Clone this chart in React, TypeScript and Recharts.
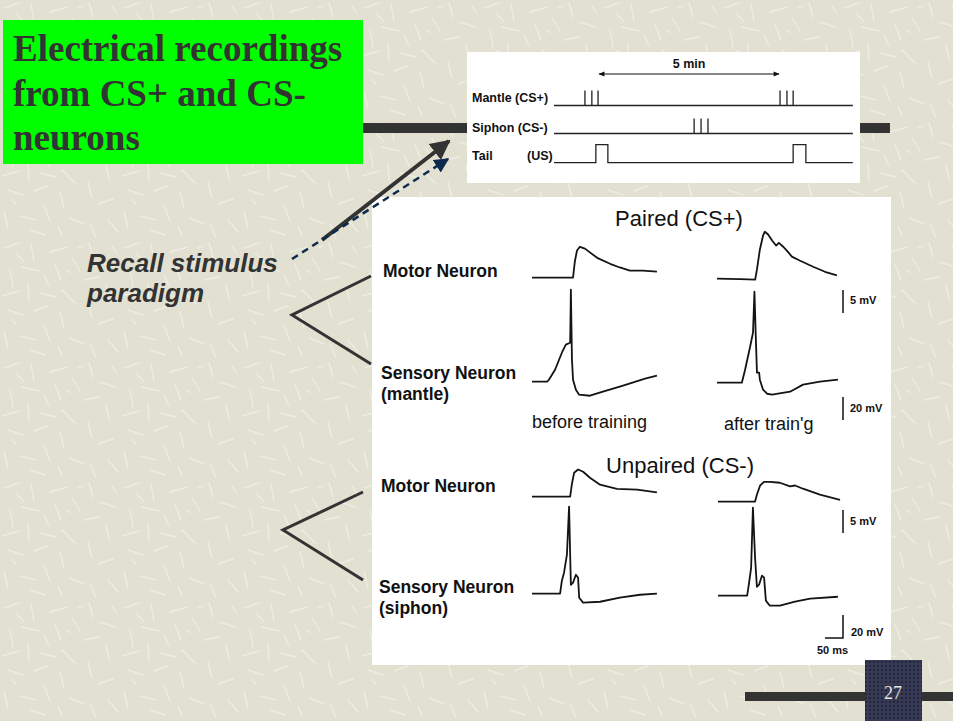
import React from 'react';
import { LineChart, Line, XAxis, YAxis } from 'recharts';

// ---------- DATA ----------
// Stimulus timeline (minutes)
const SESSION_MIN = 8.21;
const mantleStimMin = [0.85, 1.04, 1.21, 6.21, 6.4, 6.57];
const siphonStimMin = [3.85, 4.04, 4.23];
const tailShockMin: [number, number][] = [[1.15, 1.48], [6.57, 6.92]];
const intervalMin: [number, number] = [1.21, 6.21];

// Recordings: [time ms, membrane potential change mV]
const pairedMotorBefore: [number, number][] = [
  [0, 0], [114, 0], [119, 3.5], [125, 5.9], [133, 6.7], [147, 6.3], [181, 4.3],
  [217, 3.0], [244, 2.2], [272, 1.5], [308, 1.5], [347, 1.3],
];
const pairedMotorAfter: [number, number][] = [
  [0, 0.2], [64, 0.1], [106, 0], [111, 2.2], [119, 6.5], [128, 9.6], [133, 10.4],
  [142, 9.8], [153, 8.5], [164, 7.4], [172, 8.0], [183, 7.2], [194, 6.3],
  [208, 5.0], [231, 4.1], [267, 2.8], [300, 1.7], [333, 0.9],
];
const pairedSensoryBefore: [number, number][] = [
  [0, 0], [42, 0], [47, 1.7], [64, 10.4], [83, 25.2], [94, 32.2], [106, 33.9],
  [108, 80], [111, 19.1], [114, 1.7], [122, -7], [131, -11.3], [161, -12.2],
  [197, -8.7], [253, -3.5], [314, 2.6], [347, 5.2],
];
const pairedSensoryAfter: [number, number][] = [
  [0, 0], [69, 0], [78, 11.3], [92, 31.3], [100, 43.5], [104, 79.1], [108, 37.4],
  [111, 8.7], [117, 8.7], [119, 2.6], [128, -6.1], [139, -9.6], [153, -10.4],
  [203, -7.8], [239, -1.7], [286, 0.9], [336, 2.6],
];
const unpairedMotorBefore: [number, number][] = [
  [0, 0], [106, 0], [111, 2.8], [117, 5.2], [128, 5.9], [142, 5.4], [161, 4.1],
  [189, 2.6], [236, 1.7], [292, 1.5], [347, 0.9],
];
const unpairedMotorAfter: [number, number][] = [
  [0, 0], [103, 0], [108, 1.5], [117, 3.5], [128, 4.3], [144, 4.3], [172, 4.1],
  [200, 3.3], [214, 3.5], [236, 2.8], [283, 1.5], [339, 0.4],
];
const unpairedSensoryBefore: [number, number][] = [
  [0, 0], [78, 0], [83, 11.3], [89, 18.3], [97, 33.9], [103, 75.7], [106, 33.9],
  [108, 7.8], [114, 9.6], [122, 16.5], [128, 13.9], [131, -3.5], [142, -7.8],
  [189, -7], [244, -3.5], [300, -0.9], [347, 0],
];
const unpairedSensoryAfter: [number, number][] = [
  [0, 0], [81, 0], [86, 10.4], [92, 24.3], [97, 76.5], [103, 33], [108, 7.8],
  [114, 9.6], [122, 17.4], [128, 15.7], [133, -4.3], [144, -8.7], [172, -8.7],
  [214, -5.2], [256, -2.6], [333, -0.9],
];

const titleLines = ['Electrical recordings', 'from CS+ and CS-', 'neurons'];
const recallLines = ['Recall stimulus', 'paradigm'];

// ---------- SCALES / LAYOUT ----------
const PX_PER_MS = 0.36;
const MOTOR_PX_PER_MV = 4.6;
const SENSORY_PX_PER_MV = 1.15;
const PX_PER_MIN = 36.4;
const TL_LEFT = 554;
const PAD = 4;

const SANS = '"Liberation Sans", Arial, Helvetica, sans-serif';
const SERIF = '"Liberation Serif", "Times New Roman", serif';
const INK = '#141414';

const toPts = (arr: [number, number][]) => arr.map(([t, v]) => ({ t, v }));

function Trace({ data, x, y0, kind }: { data: [number, number][]; x: number; y0: number; kind: 'motor' | 'sensory' }) {
  const yScale = kind === 'motor' ? MOTOR_PX_PER_MV : SENSORY_PX_PER_MV;
  const [vMin, vMax] = kind === 'motor' ? [-4, 13] : [-22, 92];
  const height = Math.round((vMax - vMin) * yScale);
  const top = y0 - vMax * yScale;
  const width = 140;
  return (
    <div style={{ position: 'absolute', left: x - PAD, top, width, height }}>
      <LineChart width={width} height={height} data={toPts(data)} margin={{ top: 0, right: 0, bottom: 0, left: 0 }}>
        <XAxis type="number" dataKey="t" domain={[-PAD / PX_PER_MS, (width - PAD) / PX_PER_MS]} hide />
        <YAxis type="number" domain={[vMin, vMin + height / yScale]} hide />
        <Line dataKey="v" type="linear" stroke={INK} strokeWidth={1.8} strokeLinejoin="round" dot={false} isAnimationActive={false} />
      </LineChart>
    </div>
  );
}

function tickRow(times: number[]) {
  const pts = [{ t: 0, s: 0 }];
  times.forEach((t) => { pts.push({ t, s: 0 }, { t, s: 1 }, { t, s: 0 }); });
  pts.push({ t: SESSION_MIN, s: 0 });
  return pts;
}
function pulseRow(pulses: [number, number][]) {
  const pts = [{ t: 0, s: 0 }];
  pulses.forEach(([a, b]) => { pts.push({ t: a, s: 0 }, { t: a, s: 1 }, { t: b, s: 1 }, { t: b, s: 0 }); });
  pts.push({ t: SESSION_MIN, s: 0 });
  return pts;
}

function StimRow({ data, baseline, h }: { data: { t: number; s: number }[]; baseline: number; h: number }) {
  const width = Math.round(SESSION_MIN * PX_PER_MIN) + 2 * PAD;
  const height = Math.round(h * 1.6);
  const top = baseline - 1.3 * h;
  return (
    <div style={{ position: 'absolute', left: TL_LEFT - PAD, top, width, height }}>
      <LineChart width={width} height={height} data={data} margin={{ top: 0, right: 0, bottom: 0, left: 0 }}>
        <XAxis type="number" dataKey="t" domain={[-PAD / PX_PER_MIN, (width - PAD) / PX_PER_MIN]} hide />
        <YAxis type="number" domain={[-0.3, -0.3 + height / h]} hide />
        <Line dataKey="s" type="linear" stroke="#222" strokeWidth={1.3} dot={false} isAnimationActive={false} />
      </LineChart>
    </div>
  );
}

// background texture strokes (decorative)
const texStrokes: [number, number, number, number][] = [
  [5, 8, 19, 3], [31, 4, 34, 21], [50, 12, 67, 7], [10, 30, 13, 47], [22, 27, 39, 31],
  [55, 24, 61, 40], [72, 18, 80, 31], [2, 56, 19, 51], [28, 44, 29, 61], [40, 53, 56, 57],
  [62, 50, 75, 63], [8, 70, 23, 75], [34, 71, 48, 66], [60, 72, 64, 88], [44, 35, 49, 46],
  [16, 13, 24, 22], [89, 3, 93, 17], [100, 22, 115, 27], [84, 40, 99, 37], [106, 46, 110, 62],
  [88, 62, 92, 78], [98, 84, 113, 79], [4, 92, 8, 108], [20, 96, 36, 100], [44, 86, 50, 101],
  [70, 98, 84, 104], [90, 104, 96, 118], [108, 100, 118, 112], [30, 110, 45, 115], [58, 106, 62, 116],
  [78, 8, 83, 6], [112, 6, 117, 14], [12, 80, 16, 84], [66, 30, 70, 33],
];

export default function App() {
  const arrowX1 = TL_LEFT + intervalMin[0] * PX_PER_MIN;
  const arrowX2 = TL_LEFT + intervalMin[1] * PX_PER_MIN;
  return (
    <div style={{ position: 'absolute', left: 0, top: 0, width: 953, height: 721, overflow: 'hidden' }}>
      <svg width={953} height={721} style={{ position: 'absolute', left: 0, top: 0 }}>
        <defs>
          <pattern id="tex" width={120} height={120} patternUnits="userSpaceOnUse">
            <rect width={120} height={120} fill="#e1e0d1" />
            {texStrokes.map(([a, b, c, d], i) => (
              <line key={i} x1={a} y1={b} x2={c} y2={d} stroke="#eeede3" strokeWidth={1.4} strokeLinecap="round" />
            ))}
          </pattern>
          <pattern id="dots" width={4} height={4} patternUnits="userSpaceOnUse">
            <rect width={4} height={4} fill="#363a54" />
            <circle cx={2} cy={2} r={1.1} fill="#1f2236" />
          </pattern>
        </defs>
        <rect width={953} height={721} fill="url(#tex)" />
        <rect x={363} y={123} width={527} height={10} fill="#333" />
        <rect x={745} y={692} width={208} height={9} fill="#333" />
        <rect x={3} y={20} width={360} height={144} fill="#00ff00" />
        <rect x={467} y={52} width={393} height={131} fill="#fff" />
        <rect x={372} y={197} width={519} height={468} fill="#fff" />
        <rect x={865} y={660} width={57} height={61} fill="url(#dots)" />
      </svg>

      <StimRow data={tickRow(mantleStimMin)} baseline={105} h={15} />
      <StimRow data={tickRow(siphonStimMin)} baseline={133} h={15} />
      <StimRow data={pulseRow(tailShockMin)} baseline={162} h={18} />

      <Trace data={pairedMotorBefore} x={532} y0={278} kind="motor" />
      <Trace data={pairedMotorAfter} x={717} y0={280} kind="motor" />
      <Trace data={pairedSensoryBefore} x={532} y0={382} kind="sensory" />
      <Trace data={pairedSensoryAfter} x={717} y0={383} kind="sensory" />
      <Trace data={unpairedMotorBefore} x={532} y0={497} kind="motor" />
      <Trace data={unpairedMotorAfter} x={718} y0={502} kind="motor" />
      <Trace data={unpairedSensoryBefore} x={532} y0={594} kind="sensory" />
      <Trace data={unpairedSensoryAfter} x={718} y0={596} kind="sensory" />

      <svg width={953} height={721} style={{ position: 'absolute', left: 0, top: 0 }}>
        <defs>
          <marker id="ahSolid" viewBox="0 0 10 10" refX={9} refY={5} markerWidth={5} markerHeight={5} orient="auto" markerUnits="strokeWidth">
            <path d="M0,0 L10,5 L0,10 z" fill="#333" />
          </marker>
          <marker id="ahDash" viewBox="0 0 10 10" refX={9} refY={5} markerWidth={6} markerHeight={6} orient="auto" markerUnits="strokeWidth">
            <path d="M0,0 L10,5 L0,10 z" fill="#0c2a4d" />
          </marker>
          <marker id="ahSmallEnd" viewBox="0 0 10 10" refX={9} refY={5} markerWidth={6} markerHeight={5} orient="auto" markerUnits="strokeWidth">
            <path d="M0,1 L10,5 L0,9 z" fill="#111" />
          </marker>
          <marker id="ahSmallStart" viewBox="0 0 10 10" refX={1} refY={5} markerWidth={6} markerHeight={5} orient="auto" markerUnits="strokeWidth">
            <path d="M10,1 L0,5 L10,9 z" fill="#111" />
          </marker>
        </defs>

        {titleLines.map((s, i) => (
          <text key={s} x={13} y={61 + i * 44.5} fontFamily={SERIF} fontWeight="bold" fontSize={37} fill="#333">{s}</text>
        ))}
        {recallLines.map((s, i) => (
          <text key={s} x={87} y={272 + i * 30} fontFamily={SANS} fontWeight="bold" fontStyle="italic" fontSize={26} fill="#333">{s}</text>
        ))}

        {/* pointer arrows */}
        <line x1={322} y1={240} x2={449} y2={141} stroke="#333" strokeWidth={4} markerEnd="url(#ahSolid)" />
        <line x1={292} y1={259} x2={448} y2={159} stroke="#0c2a4d" strokeWidth={2.5} strokeDasharray="7 5" markerEnd="url(#ahDash)" />

        {/* brackets */}
        <polyline points="371,276 292,315 371,364" fill="none" stroke="#333" strokeWidth={3} />
        <polyline points="363,492 283,530 363,580" fill="none" stroke="#333" strokeWidth={3} />

        {/* timeline labels */}
        <g fontFamily={SANS} fontWeight="bold" fontSize={12.5} fill="#111">
          <text x={472} y={102}>Mantle (CS+)</text>
          <text x={472} y={132}>Siphon (CS-)</text>
          <text x={472} y={160}>Tail</text>
          <text x={527} y={160}>(US)</text>
          <text x={(arrowX1 + arrowX2) / 2} y={68} textAnchor="middle">5 min</text>
        </g>
        <line x1={arrowX1 + 1} y1={74} x2={arrowX2 - 1} y2={74} stroke="#111" strokeWidth={1.2} markerStart="url(#ahSmallStart)" markerEnd="url(#ahSmallEnd)" />

        {/* panel text */}
        <g fontFamily={SANS} fill="#111">
          <text x={679} y={226} fontSize={22} textAnchor="middle">Paired (CS+)</text>
          <text x={680} y={473} fontSize={22} textAnchor="middle">Unpaired (CS-)</text>
          <text x={532} y={428} fontSize={18}>before training</text>
          <text x={724} y={430} fontSize={18}>after train'g</text>
        </g>
        <g fontFamily={SANS} fill="#111" fontWeight="bold" fontSize={17.5}>
          <text x={383} y={277}>Motor Neuron</text>
          <text x={381} y={379}>Sensory Neuron</text>
          <text x={381} y={400}>(mantle)</text>
          <text x={381} y={492}>Motor Neuron</text>
          <text x={379} y={593}>Sensory Neuron</text>
          <text x={379} y={614}>(siphon)</text>
        </g>

        {/* scale bars */}
        <g stroke="#111" strokeWidth={1.5} fill="none">
          <line x1={843} y1={313 - 5 * MOTOR_PX_PER_MV} x2={843} y2={313} />
          <line x1={843} y1={420 - 20 * SENSORY_PX_PER_MV} x2={843} y2={420} />
          <line x1={843} y1={533 - 5 * MOTOR_PX_PER_MV} x2={843} y2={533} />
          <polyline points={`843,${638 - 20 * SENSORY_PX_PER_MV} 843,638 ${843 - 50 * PX_PER_MS},638`} />
        </g>
        <g fontFamily={SANS} fill="#111" fontWeight="bold" fontSize={11}>
          <text x={850} y={304}>5 mV</text>
          <text x={850} y={412}>20 mV</text>
          <text x={850} y={525}>5 mV</text>
          <text x={851} y={636}>20 mV</text>
          <text x={817} y={654}>50 ms</text>
        </g>

        <text x={893} y={699} textAnchor="middle" fontFamily={SERIF} fontSize={18} fill="#e6e6e6">27</text>
      </svg>
    </div>
  );
}
